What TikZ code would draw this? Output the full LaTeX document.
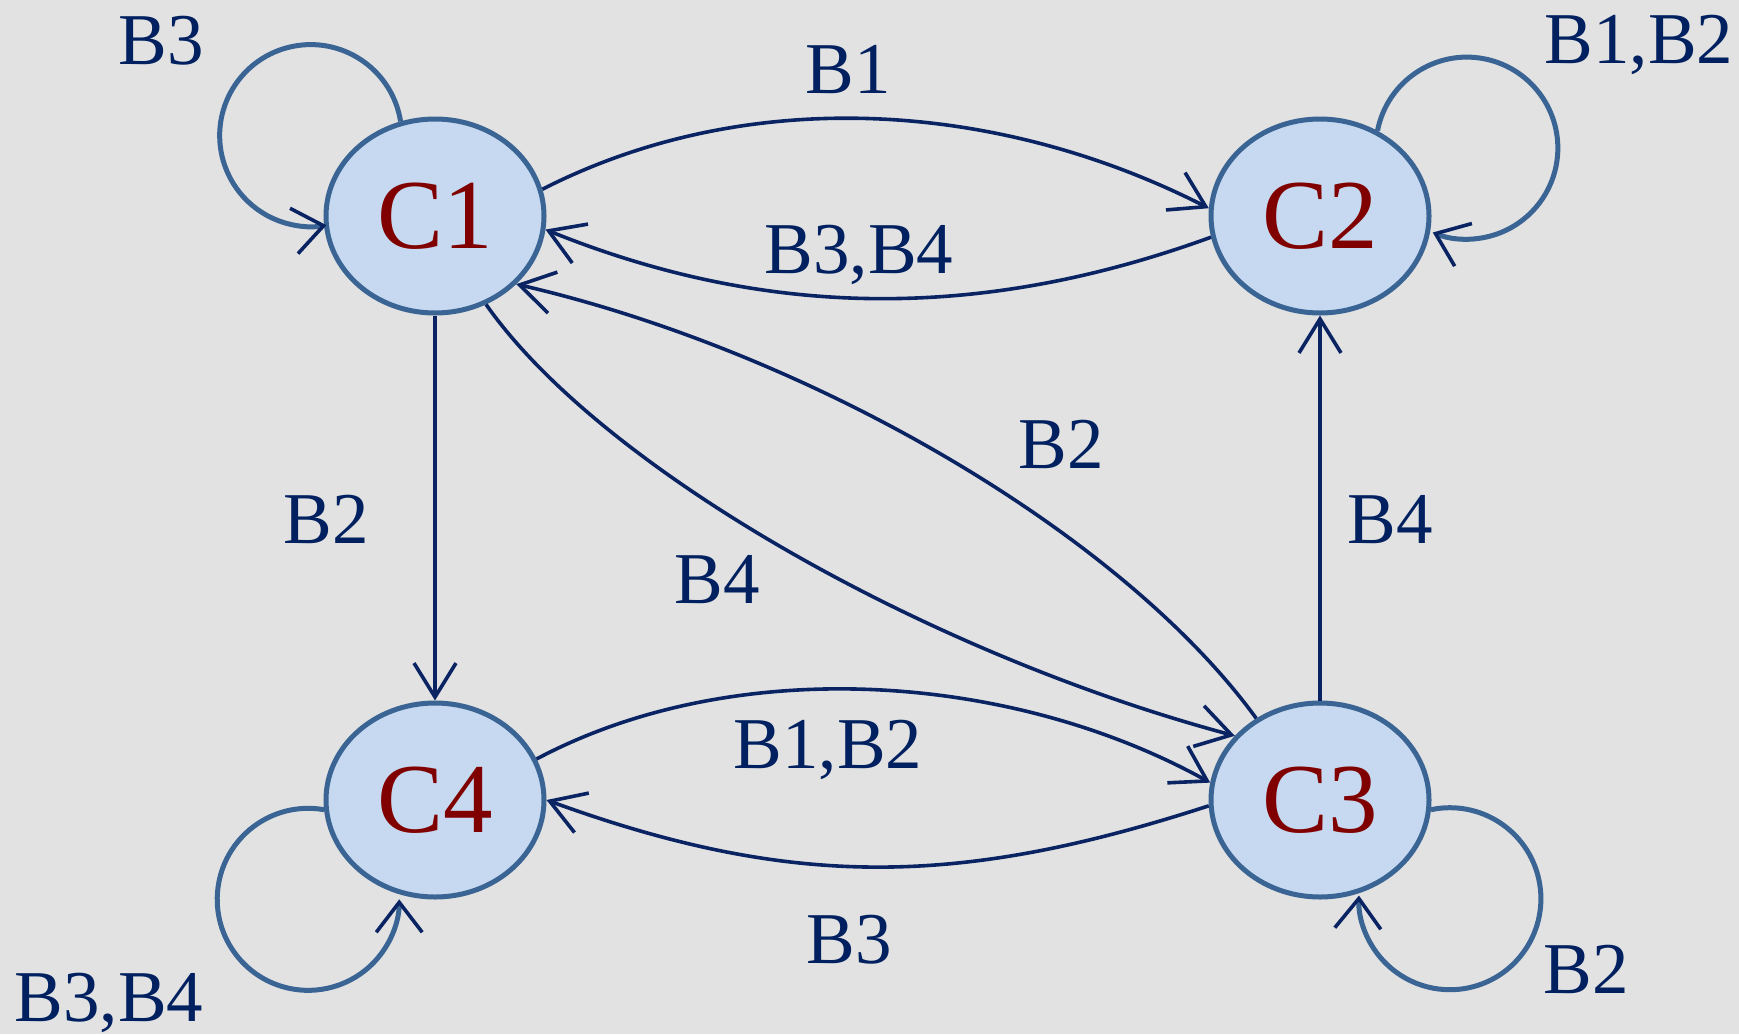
\documentclass[tikz,border=0pt]{standalone}
\usepackage{fontspec}
\setmainfont{Liberation Serif}
\usetikzlibrary{shapes.geometric,arrows.meta}
\definecolor{bgcol}{HTML}{E2E2E2}
\definecolor{nodefill}{HTML}{C6D9F0}
\definecolor{nodeline}{HTML}{3A6494}
\definecolor{edgecol}{HTML}{0A2463}
\definecolor{labelcol}{HTML}{002060}
\definecolor{statecol}{HTML}{800000}
\tikzset{
  cstate/.style={ellipse, draw=nodeline, fill=nodefill, line width=5pt,
    minimum width=218pt, minimum height=194pt, inner sep=0pt,
    text=statecol, font=\fontsize{99}{99}\selectfont},
  lab/.style={anchor=base, inner sep=0pt, text=labelcol, font=\fontsize{73}{73}\selectfont},
  trans/.style={draw=edgecol, line width=3.6pt,
    -{Straight Barb[length=34pt,width=42pt,line width=3.6pt]}},
  loopedge/.style={draw=nodeline, line width=5pt,
    -{Straight Barb[length=30pt,width=46pt,line width=3.6pt,color=edgecol]}},
}
\begin{document}
\begin{tikzpicture}[x=1pt,y=-1pt]
\useasboundingbox (0,0) rectangle (1739,1034);
\fill[bgcol] (0,0) rectangle (1739,1034);

% states
\node[cstate] (C1) at (435,216) {C1};
\node[cstate] (C2) at (1320,216) {C2};
\node[cstate] (C4) at (435,800) {C4};
\node[cstate] (C3) at (1320,800) {C3};

% transitions
\draw[trans] (C1.14) .. controls +(-27:234) and +(-153:234) .. (C2.176);
\draw[trans] (C2.191) .. controls +(-200:242) and +(22:242) .. (C1.-7);
\draw[trans] (C1.south) -- (C4.north);
\draw[trans] (C3.north) -- (C2.south);
\draw[trans] (C4.22) .. controls +(-28:226) and +(-151:226) .. (C3.171);
\draw[trans] (C3.183) .. controls +(-198:262) and +(20:262) .. (C4.0);
\draw[trans] (C3.128) .. controls +(-126:230) and +(13:300) .. (C1.-40);
\draw[trans] (C1.-60) .. controls +(55:200) and +(-165:320) .. (C3.143);

% loops
\draw[loopedge] (C1.110) arc[start angle=-9, end angle=-280, radius=91];
\draw[loopedge] (C2.56) arc[start angle=-169, end angle=112, radius=91];
\draw[loopedge] (C3.-5) arc[start angle=-102, end angle=182, radius=91];
\draw[loopedge] (C4.185) arc[start angle=-80, end angle=-360, radius=91];

% labels
\node[lab] (lA) at (161,64) {B3};
\node[lab] (lB) at (848,93) {B1};
\node[lab] (lC) at (1639,63) {B1,B2};
\node[lab] (lD) at (859,273) {B3,B4};
\node[lab] (lE) at (1061,468) {B2};
\node[lab] (lF) at (326,543) {B2};
\node[lab] (lG) at (717,603) {B4};
\node[lab] (lH) at (1390,543) {B4};
\node[lab] (lI) at (828,768) {B1,B2};
\node[lab] (lJ) at (849,963) {B3};
\node[lab] (lK) at (109,1021) {B3,B4};
\node[lab] (lL) at (1586,993) {B2};
\end{tikzpicture}
\end{document}
